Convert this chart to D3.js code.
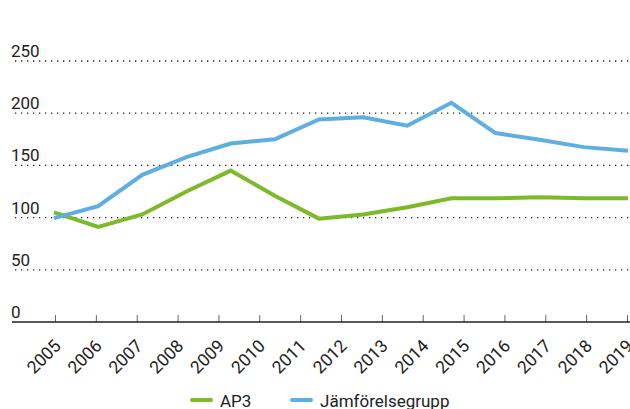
<!DOCTYPE html>
<html>
<head>
<meta charset="utf-8">
<script src="https://cdnjs.cloudflare.com/ajax/libs/d3/7.8.5/d3.min.js"></script>
<style>
body { margin: 0; background: #fff; }
svg { display: block; font-family: Roboto, "Noto Sans", sans-serif; }
</style>
</head>
<body>
<svg id="graph"></svg>
<script>
var years = ["2005","2006","2007","2008","2009","2010","2011","2012","2013","2014","2015","2016","2017","2018","2019"]
var yTicks = [0, 50, 100, 150, 200, 250]
var ap3 = [105, 91, 103, 125, 145, 121, 99, 103, 110, 118.5, 118.5, 119.5, 118.5, 118.5]
var jamfor = [99.5, 111, 141, 158, 171, 175, 194, 196, 188, 210, 181, 174.5, 167.5, 164]
var seriesNames = ["AP3", "Jämförelsegrupp"]
var seriesColors = ["#7cba2a", "#5eaee2"]

var screen = {width:630,height:409}
var svg = d3.select("#graph")
    .attr("width",screen.width)
    .attr("height",screen.height)

var left = 54, right = 628

var xAxisScale = d3.scalePoint()
    .domain(years)
    .range([55,627])

// the lines have one point fewer than the axis has labels
var xscale = d3.scaleLinear()
    .domain([0,ap3.length-1])
    .range([left,right])

var yscale = d3.scaleLinear()
    .domain([0,250])
    .range([322,61])

// dotted grid
svg.selectAll(".grid")
    .data(yTicks.filter(function(d){return d>0}))
    .enter()
    .append("line")
    .attr("x1",15)
    .attr("x2",630)
    .attr("y1",function(d){return yscale(d)})
    .attr("y2",function(d){return yscale(d)})
    .attr("stroke","#222")
    .attr("stroke-width",1.3)
    .attr("stroke-dasharray","1.3,4.7")

svg.selectAll(".ylab")
    .data(yTicks)
    .enter()
    .append("text")
    .attr("x",11)
    .attr("y",function(d){return yscale(d)-4})
    .attr("font-size",17)
    .attr("fill","#222")
    .text(function(d){return d})

// x axis with inward ticks
var xAxis = svg.append("g")
    .attr("transform","translate(0,322)")
    .call(d3.axisBottom(xAxisScale).tickSize(-7).tickSizeOuter(0).tickFormat(""))
xAxis.select(".domain").remove()
xAxis.selectAll(".tick line").attr("stroke","#666")
svg.append("line")
    .attr("x1",12).attr("x2",630)
    .attr("y1",322).attr("y2",322)
    .attr("stroke","#222").attr("stroke-width",1.3)

svg.selectAll(".xlab")
    .data(years)
    .enter()
    .append("text")
    .attr("text-anchor","end")
    .attr("font-size",17.5)
    .attr("fill","#222")
    .attr("transform",function(d){return "translate("+(xAxisScale(d)+7)+",347) rotate(-45)"})
    .text(function(d){return d})

var line = d3.line()
    .x(function(d,i){return xscale(i)})
    .y(function(d){return yscale(d)})

svg.selectAll(".series")
    .data([ap3, jamfor])
    .enter()
    .append("path")
    .attr("d",line)
    .attr("fill","none")
    .attr("stroke",function(d,i){return seriesColors[i]})
    .attr("stroke-width",4)
    .attr("stroke-linejoin","miter")

// legend
var legendX = [192, 292]
var legend = svg.selectAll(".legend")
    .data(seriesNames)
    .enter()
    .append("g")
    .attr("transform",function(d,i){return "translate("+legendX[i]+",400)"})
legend.append("line")
    .attr("x1",0).attr("x2",19)
    .attr("stroke",function(d,i){return seriesColors[i]})
    .attr("stroke-width",4)
    .attr("stroke-linecap","round")
legend.append("text")
    .attr("x",28)
    .attr("y",7)
    .attr("font-size",17)
    .attr("fill","#222")
    .text(function(d){return d})
</script>
</body>
</html>
